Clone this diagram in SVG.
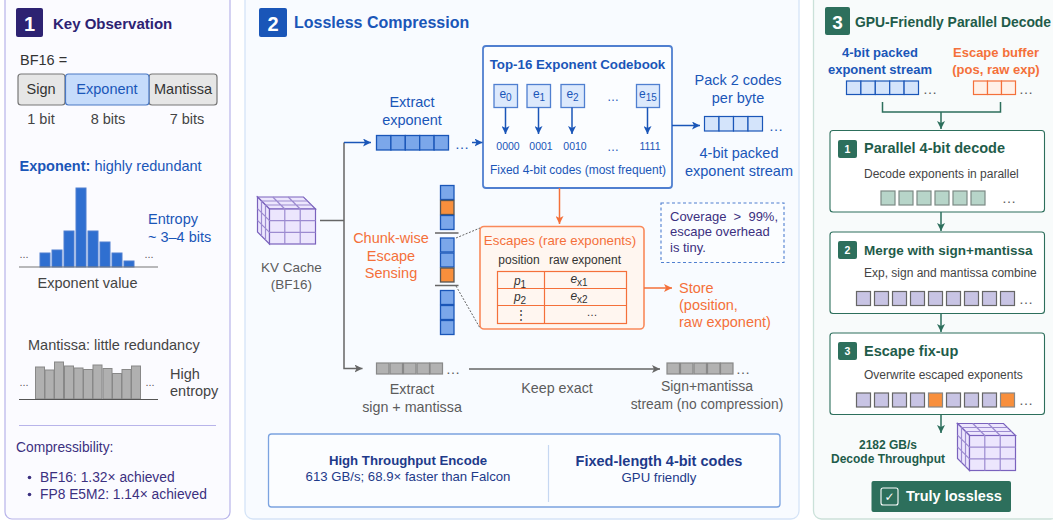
<svg xmlns="http://www.w3.org/2000/svg" width="1053" height="520" viewBox="0 0 1053 520">
<style>
text{font-family:"Liberation Sans",Arial,sans-serif;font-size:14.5px}
.m{text-anchor:middle}.b{font-weight:700}
.blue{fill:#1a56b8}.or{fill:#f4703a}.dk{fill:#444}.gr{fill:#5c5c5c}.pu{fill:#3b3080}.gn{fill:#1f5c4a}.nv{fill:#1e3a8a}
.hb{fill:#2f6fd0;stroke:#4f7fd0;stroke-width:1}.mb{fill:#b0b0b0;stroke:#888;stroke-width:1}
.c-ex{fill:#7ba7ea;stroke:#1a56b8;stroke-width:1.3}.c-o{fill:#f88f3c;stroke:#555;stroke-width:1.3}
.c-lt{fill:#d4e4fb;stroke:#1a56b8;stroke-width:1.2}.c-or{fill:#fff1e8;stroke:#f4703a;stroke-width:1.2}
.c-g{fill:#b2b2b2;stroke:#888;stroke-width:1.2}.c-gn{fill:#b7d5c9;stroke:#7c8a85;stroke-width:1.2}.c-pu{fill:#c8c4e4;stroke:#666;stroke-width:1.2}.c-fo{fill:#f88f3c;stroke:#888;stroke-width:1.2}
.e{fill:#dce9fc;stroke:#4f7fd0;stroke-width:1.3}
.step{fill:#fff;stroke:#2d6f5c;stroke-width:1.1}.sb{fill:#2d6f5c}
.l-bl{fill:none;stroke:#1a56b8;stroke-width:1.5}.l-gr{fill:none;stroke:#666;stroke-width:1.5}.l-or{fill:none;stroke:#f4703a;stroke-width:1.5}.l-gn{fill:none;stroke:#2d6f5c;stroke-width:1.5}
.grid{fill:none;stroke:#f4703a;stroke-width:1.2}
.cube{fill:#ece6fd;stroke:#7a62bd;stroke-width:1.2}.cl{fill:none;stroke:#9c8bd0;stroke-width:1.2}
</style>
<defs>
<marker id="ab" markerWidth="10" markerHeight="8" refX="8" refY="4" orient="auto" markerUnits="userSpaceOnUse"><path d="M0 0L8 4L0 8L2 4Z" fill="#1a56b8"/></marker>
<marker id="ag" markerWidth="10" markerHeight="8" refX="8" refY="4" orient="auto" markerUnits="userSpaceOnUse"><path d="M0 0L8 4L0 8L2 4Z" fill="#666"/></marker>
<marker id="ao" markerWidth="10" markerHeight="8" refX="8" refY="4" orient="auto" markerUnits="userSpaceOnUse"><path d="M0 0L8 4L0 8L2 4Z" fill="#f4703a"/></marker>
<marker id="an" markerWidth="10" markerHeight="8" refX="8" refY="4" orient="auto" markerUnits="userSpaceOnUse"><path d="M0 0L8 4L0 8L2 4Z" fill="#2d6f5c"/></marker>
<g id="cubeShape">
<path class="cube" d="M0 0H46L58 12H12Z"/><path class="cube" d="M0 0L12 12V47L0 35Z"/><rect class="cube" x="12" y="12" width="46" height="35"/>
<path class="cl" d="M27.3 12V47M42.7 12V47M12 23.7H58M12 35.3H58M4 4V39M8 8V43M0 11.7L12 23.7M0 23.3L12 35.3M15.3 0L27.3 12M30.7 0L42.7 12M4 4H50M8 8H54"/>
</g>
</defs>

<g id="panel1">
<rect x="5" y="-8" width="225" height="527" rx="7" fill="#fbfbff" stroke="#b8b4ea" stroke-width="1.2"/>
<rect x="16" y="8" width="27" height="29" rx="2" fill="#2d2272"/>
<text class="m b" x="29.5" y="31" style="font-size:20px" fill="#fff">1</text>
<text class="b" x="53" y="29" style="font-size:15px" fill="#2d2272">Key Observation</text>
<text x="20" y="65" fill="#333">BF16 =</text>
<rect x="18" y="74" width="47" height="31" rx="3" fill="#e6e6e6" stroke="#777" stroke-width="1.2"/>
<rect x="149" y="74" width="68" height="31" rx="3" fill="#e6e6e6" stroke="#777" stroke-width="1.2"/>
<rect x="65.5" y="74" width="83.5" height="31" rx="3" fill="#c6dcfb" stroke="#4a78c4" stroke-width="1.2"/>
<text class="m" x="41" y="94" fill="#333">Sign</text><text class="m blue" x="107" y="94">Exponent</text><text class="m" x="183" y="94" fill="#333">Mantissa</text>
<text class="m dk" x="41" y="124">1 bit</text><text class="m dk" x="108" y="124">8 bits</text><text class="m dk" x="187" y="124">7 bits</text>
<text class="blue" x="19.500" y="171"><tspan class="b">Exponent:</tspan> highly redundant</text>
<rect class="hb" x="40" y="253" width="10" height="14"/><rect class="hb" x="52" y="250" width="10" height="17"/><rect class="hb" x="64" y="231" width="10" height="36"/><rect class="hb" x="76" y="188" width="10" height="79"/><rect class="hb" x="88" y="231" width="10" height="36"/><rect class="hb" x="100" y="242" width="10" height="25"/><rect class="hb" x="112" y="253" width="10" height="14"/><rect class="hb" x="124" y="261" width="10" height="6"/>
<path d="M19 267H158" stroke="#777" stroke-width="1.2"/>
<text class="m gr" x="24" y="258" style="font-size:11px">...</text><text class="m gr" x="149" y="258" style="font-size:11px">...</text>
<text class="blue" x="148" y="224">Entropy</text><text class="blue" x="148" y="242">~ 3–4 bits</text>
<text class="m dk" x="87.500" y="288">Exponent value</text>
<text class="dk" x="28" y="350">Mantissa: little redundancy</text>
<rect class="mb" x="35.500" y="367" width="9" height="32"/><rect class="mb" x="45" y="370" width="9" height="29"/><rect class="mb" x="54.500" y="362" width="9" height="37"/><rect class="mb" x="64.500" y="366" width="9" height="33"/><rect class="mb" x="74" y="368" width="9" height="31"/><rect class="mb" x="83.500" y="369.500" width="9" height="29.500"/><rect class="mb" x="93" y="365" width="9" height="34"/><rect class="mb" x="103" y="368.500" width="9" height="30.500"/><rect class="mb" x="112.500" y="373.500" width="9" height="25.500"/><rect class="mb" x="122" y="369.500" width="9" height="29.500"/><rect class="mb" x="131.500" y="366" width="9" height="33"/>
<path d="M19 399.500H158" stroke="#555" stroke-width="1.2"/>
<text class="m gr" x="24" y="386" style="font-size:11px">...</text><text class="m gr" x="150" y="386" style="font-size:11px">...</text>
<text class="dk" x="170" y="379">High</text><text class="dk" x="170" y="396">entropy</text>
<path d="M19 425.500H216" stroke="#b8b4ea" stroke-width="1.2"/>
<text class="pu" x="16" y="452" style="font-size:13.800px">Compressibility:</text>
<circle cx="29.500" cy="477.500" r="1.800" fill="#3b3080"/><circle cx="29.500" cy="494.500" r="1.800" fill="#3b3080"/>
<text class="pu" x="40" y="482" style="font-size:13.800px">BF16: 1.32× achieved</text><text class="pu" x="40" y="499" style="font-size:13.800px">FP8 E5M2: 1.14× achieved</text>
</g>

<g id="panel2">
<rect x="245" y="-8" width="554" height="527" rx="8" fill="#f8fbff" stroke="#d5e4f7" stroke-width="1.3"/>
<rect x="259" y="8" width="28" height="29" rx="2" fill="#1a56b8"/>
<text class="m b" x="273" y="31" style="font-size:20px" fill="#fff">2</text>
<text class="b blue" x="294" y="28" style="font-size:16px">Lossless Compression</text>
</g>

<g id="kv-cache">
<use href="#cubeShape" x="257.500" y="197"/>
<text class="m gr" x="291.500" y="272" style="font-size:13.500px">KV Cache</text><text class="m gr" x="291.500" y="289" style="font-size:13.500px">(BF16)</text>
</g>

<g id="extract-exponent">
<text class="m blue" x="412" y="107">Extract</text><text class="m blue" x="412" y="125">exponent</text>
<rect class="c-ex" x="376.500" y="135.500" width="14.400" height="14.500"/><rect class="c-ex" x="390.900" y="135.500" width="14.400" height="14.500"/><rect class="c-ex" x="405.300" y="135.500" width="14.400" height="14.500"/><rect class="c-ex" x="419.700" y="135.500" width="14.400" height="14.500"/><rect class="c-ex" x="434.100" y="135.500" width="14.400" height="14.500"/>
<text class="m blue" x="462" y="149">…</text>
</g>

<g id="codebook">
<rect x="483" y="46" width="189" height="142" rx="3" fill="#fbfdff" stroke="#4f7fd0" stroke-width="1.800"/>
<text class="m b blue" x="577.500" y="69" style="font-size:13.300px">Top-16 Exponent Codebook</text>
<rect class="e" x="494" y="84.500" width="23.500" height="23"/><rect class="e" x="527" y="84.500" width="23.500" height="23"/><rect class="e" x="561" y="84.500" width="23.500" height="23"/><rect class="e" x="636.500" y="84.500" width="23" height="23"/>
<text class="m blue" x="505.500" y="98" style="font-size:12px">e<tspan dy="3" style="font-size:10px">0</tspan></text>
<text class="m blue" x="539" y="98" style="font-size:12px">e<tspan dy="3" style="font-size:10px">1</tspan></text>
<text class="m blue" x="572.500" y="98" style="font-size:12px">e<tspan dy="3" style="font-size:10px">2</tspan></text>
<text class="m blue" x="648" y="98" style="font-size:12px">e<tspan dy="3" style="font-size:10px">15</tspan></text>
<text class="m blue" x="613" y="101" style="font-size:12px">…</text>
<text class="m blue" x="508" y="150" style="font-size:10.500px">0000</text>
<text class="m blue" x="541" y="150" style="font-size:10.500px">0001</text>
<text class="m blue" x="575" y="150" style="font-size:10.500px">0010</text>
<text class="m blue" x="613" y="151" style="font-size:12px">…</text>
<text class="m blue" x="650" y="150" style="font-size:10.500px">1111</text>
<text class="m blue" x="578" y="174" style="font-size:12px">Fixed 4-bit codes (most frequent)</text>
</g>

<g id="packed-stream">
<text class="m blue" x="738" y="85">Pack 2 codes</text><text class="m blue" x="738" y="103">per byte</text>
<rect class="c-lt" x="704.500" y="116.500" width="14.500" height="14.500"/><rect class="c-lt" x="719" y="116.500" width="14.500" height="14.500"/><rect class="c-lt" x="733.500" y="116.500" width="14.500" height="14.500"/><rect class="c-lt" x="748" y="116.500" width="14.500" height="14.500"/>
<text class="m blue" x="776" y="131">…</text>
<text class="m blue" x="739" y="158">4-bit packed</text><text class="m blue" x="739" y="176">exponent stream</text>
</g>

<g id="chunk-sensing">
<text class="m or" x="391" y="243">Chunk-wise</text><text class="m or" x="391" y="261">Escape</text><text class="m or" x="391" y="278">Sensing</text>
<rect class="c-ex" x="440.500" y="185.500" width="13.500" height="14"/><rect class="c-o" x="440.500" y="200.500" width="13.500" height="14"/><rect class="c-ex" x="440.500" y="215.500" width="13.500" height="14"/>
<path d="M435 233H458.500M435 285.500H458.500" stroke="#666" stroke-width="1.300"/>
<rect class="c-ex" x="440.500" y="238" width="13.500" height="14"/><rect class="c-ex" x="440.500" y="253" width="13.500" height="14"/><rect class="c-o" x="440.500" y="268" width="13.500" height="14"/>
<rect class="c-ex" x="440.500" y="290.500" width="13.500" height="14"/><rect class="c-ex" x="440.500" y="305.500" width="13.500" height="14"/><rect class="c-ex" x="440.500" y="320.500" width="13.500" height="14"/>
</g>

<g id="escapes">
<rect x="480" y="226.500" width="164" height="102.500" rx="4" fill="#fff6f0" stroke="#f9895a" stroke-width="1.600"/>
<text class="m or" x="560" y="245" style="font-size:13.300px">Escapes (rare exponents)</text>
<text class="m" x="519" y="264" style="font-size:12px" fill="#333">position</text><text class="m" x="585" y="264" style="font-size:12px" fill="#333">raw exponent</text>
<rect class="grid" x="497.500" y="271.500" width="129" height="52"/><path class="grid" d="M497.500 288.500H626.500M497.500 305.500H626.500M544.500 271.500V323.500"/>
<text class="m" x="520" y="285" style="font-size:12px;font-style:italic" fill="#333">p<tspan dy="3" style="font-size:10px;font-style:normal">1</tspan></text>
<text class="m" x="520" y="301" style="font-size:12px;font-style:italic" fill="#333">p<tspan dy="3" style="font-size:10px;font-style:normal">2</tspan></text>
<text class="m" x="579" y="283" style="font-size:12px;font-style:italic" fill="#333">e<tspan dy="3" style="font-size:10px;font-style:normal">x1</tspan></text>
<text class="m" x="579" y="300" style="font-size:12px;font-style:italic" fill="#333">e<tspan dy="3" style="font-size:10px;font-style:normal">x2</tspan></text>
<text class="m" x="521" y="319" style="font-size:12px" fill="#333">⋮</text><text class="m" x="592" y="316" style="font-size:11px" fill="#333">…</text>
</g>

<g id="store">
<text class="or" x="679" y="293">Store</text><text class="or" x="679" y="310">(position,</text><text class="or" x="679" y="327">raw exponent)</text>
</g>

<g id="coverage-note">
<rect x="661" y="203" width="123" height="59.500" fill="#fbfdff" stroke="#4f7fd0" stroke-width="1.100" stroke-dasharray="3 2.500"/>
<text class="pu" x="670" y="221" style="font-size:13px">Coverage&#160;&#160;&gt;&#160;&#160;99%,</text>
<text class="pu" x="670" y="236" style="font-size:13px">escape overhead</text>
<text class="pu" x="670" y="252" style="font-size:13px">is tiny.</text>
</g>

<g id="sign-mantissa">
<rect class="c-g" x="376.500" y="363" width="12.500" height="11"/><rect class="c-g" x="390" y="363" width="12.500" height="11"/><rect class="c-g" x="403.500" y="363" width="12.500" height="11"/><rect class="c-g" x="417" y="363" width="12.500" height="11"/><rect class="c-g" x="430" y="363" width="12.500" height="11"/>
<text class="m gr" x="453" y="374">…</text>
<text class="m gr" x="412" y="394" style="font-size:14.300px">Extract</text><text class="m gr" x="412" y="412" style="font-size:14.300px">sign + mantissa</text>
<text class="m gr" x="557" y="393" style="font-size:14.300px">Keep exact</text>
<rect class="c-g" x="667" y="363" width="12.500" height="11"/><rect class="c-g" x="680.500" y="363" width="12.500" height="11"/><rect class="c-g" x="694" y="363" width="12.500" height="11"/><rect class="c-g" x="707.500" y="363" width="12.500" height="11"/><rect class="c-g" x="720.500" y="363" width="12.500" height="11"/>
<text class="m gr" x="743" y="374">…</text>
<text class="m gr" x="707" y="391" style="font-size:14px">Sign+mantissa</text><text class="m gr" x="707" y="409" style="font-size:13.800px">stream (no compression)</text>
</g>

<g id="summary">
<rect x="268.500" y="434" width="511.500" height="73" rx="3" fill="#fbfdff" stroke="#7ba3e0" stroke-width="1.300"/>
<path d="M548.500 445V502" stroke="#c6d8f2" stroke-width="1.200"/>
<text class="m b nv" x="408" y="465" style="font-size:13.200px">High Throughput Encode</text>
<text class="m nv" x="408" y="481" style="font-size:13.200px">613 GB/s; 68.9× faster than Falcon</text>
<text class="m b nv" x="659" y="466">Fixed-length 4-bit codes</text>
<text class="m nv" x="659" y="482" style="font-size:13.200px">GPU friendly</text>
</g>

<g id="panel3">
<rect x="813.500" y="-8" width="245" height="527" rx="8" fill="#f8fbfb" stroke="#cbe1d9" stroke-width="1.300"/>
<rect x="825" y="7" width="25" height="28" rx="2" fill="#2d6f5c"/>
<text class="m b" x="837.500" y="29" style="font-size:19px" fill="#fff">3</text>
<text class="b gn" x="855" y="27" style="font-size:13.900px">GPU-Friendly Parallel Decode</text>
<text class="m b blue" x="880" y="57" style="font-size:13px">4-bit packed</text><text class="m b blue" x="880" y="74" style="font-size:13px">exponent stream</text>
<text class="m b or" x="996" y="57" style="font-size:13px">Escape buffer</text><text class="m b or" x="996" y="74" style="font-size:13px">(pos, raw exp)</text>
</g>
<g id="decode-inputs">
<rect class="c-lt" x="846.500" y="81" width="14.400" height="13.500"/><rect class="c-lt" x="860.900" y="81" width="14.400" height="13.500"/><rect class="c-lt" x="875.300" y="81" width="14.400" height="13.500"/><rect class="c-lt" x="889.700" y="81" width="14.400" height="13.500"/><rect class="c-lt" x="904.100" y="81" width="14.400" height="13.500"/>
<text class="m gr" x="930" y="94">…</text>
<rect class="c-or" x="973.500" y="81" width="14" height="13.500"/><rect class="c-or" x="987.500" y="81" width="14" height="13.500"/><rect class="c-or" x="1001.500" y="81" width="14" height="13.500"/>
<text class="m gr" x="1026" y="94">…</text>
</g>
<g id="step1">
<rect class="step" x="830" y="130.500" width="214.500" height="81.500" rx="3"/>
<rect class="sb" x="838" y="140" width="19" height="18" rx="2"/><text class="m b" x="847.500" y="153" style="font-size:10.500px" fill="#fff">1</text>
<text class="b gn" x="864" y="153">Parallel 4-bit decode</text>
<text class="dk" x="864" y="178" style="font-size:12px">Decode exponents in parallel</text>
<rect class="c-gn" x="881" y="191" width="14" height="14"/><rect class="c-gn" x="899" y="191" width="14" height="14"/><rect class="c-gn" x="917" y="191" width="14" height="14"/><rect class="c-gn" x="935" y="191" width="14" height="14"/><rect class="c-gn" x="953" y="191" width="14" height="14"/><rect class="c-gn" x="971" y="191" width="14" height="14"/>
<text class="m gr" x="1009" y="203">…</text>
</g>
<g id="step2">
<rect class="step" x="830" y="232" width="214.500" height="81.500" rx="3"/>
<rect class="sb" x="838" y="241" width="19" height="18" rx="2"/><text class="m b" x="847.500" y="254" style="font-size:10.500px" fill="#fff">2</text>
<text class="b gn" x="864" y="255" style="font-size:13.500px">Merge with sign+mantissa</text>
<text class="dk" x="864" y="277" style="font-size:12px">Exp, sign and mantissa combine</text>
<rect class="c-pu" x="856.500" y="291.500" width="14" height="14"/><rect class="c-pu" x="874.500" y="291.500" width="14" height="14"/><rect class="c-pu" x="892.500" y="291.500" width="14" height="14"/><rect class="c-pu" x="910.500" y="291.500" width="14" height="14"/><rect class="c-pu" x="928.500" y="291.500" width="14" height="14"/><rect class="c-pu" x="946.500" y="291.500" width="14" height="14"/><rect class="c-pu" x="964.500" y="291.500" width="14" height="14"/><rect class="c-pu" x="982.500" y="291.500" width="14" height="14"/><rect class="c-pu" x="1000.500" y="291.500" width="14" height="14"/>
<text class="m gr" x="1026" y="304">…</text>
</g>
<g id="step3">
<rect class="step" x="830" y="333" width="214.500" height="81.500" rx="3"/>
<rect class="sb" x="838" y="342" width="19" height="18" rx="2"/><text class="m b" x="847.500" y="355" style="font-size:10.500px" fill="#fff">3</text>
<text class="b gn" x="864" y="356">Escape fix-up</text>
<text class="dk" x="864" y="379" style="font-size:12px">Overwrite escaped exponents</text>
<rect class="c-pu" x="856.500" y="393" width="14" height="14"/><rect class="c-pu" x="874.500" y="393" width="14" height="14"/><rect class="c-pu" x="892.500" y="393" width="14" height="14"/><rect class="c-pu" x="910.500" y="393" width="14" height="14"/><rect class="c-fo" x="928.500" y="393" width="14" height="14"/><rect class="c-pu" x="946.500" y="393" width="14" height="14"/><rect class="c-pu" x="964.500" y="393" width="14" height="14"/><rect class="c-pu" x="982.500" y="393" width="14" height="14"/><rect class="c-fo" x="1000.500" y="393" width="14" height="14"/>
<text class="m gr" x="1026" y="405">…</text>
</g>
<g id="throughput">
<text class="m b gn" x="888" y="449" style="font-size:12px">2182 GB/s</text><text class="m b gn" x="888" y="463" style="font-size:12px">Decode Throughput</text>
<use href="#cubeShape" x="957.500" y="423.500"/>
</g>
<g id="truly-lossless">
<rect x="871.500" y="481" width="139.500" height="31" rx="2" fill="#2d6f5c"/>
<rect x="881" y="488" width="17" height="17" rx="2" fill="none" stroke="#fff" stroke-width="1.100"/>
<text class="m" x="889.500" y="501" style="font-family:'DejaVu Sans',sans-serif;font-size:12px" fill="#fff">✓</text>
<text class="b" x="906" y="501" fill="#fff">Truly lossless</text>
</g>

<g id="connectors">
<path class="l-gr" d="M320 220.500H344"/>
<path class="l-gr" d="M344 142.500V368.500H362.500" marker-end="url(#ag)"/>
<path class="l-bl" d="M344 142.500H371" marker-end="url(#ab)"/>
<path class="l-bl" d="M472 142.500H482.500" marker-end="url(#ab)"/>
<path class="l-bl" d="M505.500 107.500V134" marker-end="url(#ab)"/><path class="l-bl" d="M538.500 107.500V134" marker-end="url(#ab)"/><path class="l-bl" d="M572 107.500V134" marker-end="url(#ab)"/><path class="l-bl" d="M647.500 107.500V134" marker-end="url(#ab)"/>
<path class="l-bl" d="M672 125.500H700" marker-end="url(#ab)"/>
<path class="l-or" d="M559.500 188V224" marker-end="url(#ao)"/>
<path class="l-or" d="M644 288H672" marker-end="url(#ao)"/>
<path class="l-gr" d="M469 369H660" marker-end="url(#ag)"/>
<path d="M456 238L480 228M456 286L480 328" fill="none" stroke="#666" stroke-width="1" stroke-dasharray="2 1.500"/>
<path class="l-gn" d="M882.500 102V112H1000.500V102M941 112V129" marker-end="url(#an)"/>
<path class="l-gn" d="M941 212V231" marker-end="url(#an)"/><path class="l-gn" d="M941 313.500V332" marker-end="url(#an)"/><path class="l-gn" d="M941 414.500V433" marker-end="url(#an)"/>
</g>
</svg>
